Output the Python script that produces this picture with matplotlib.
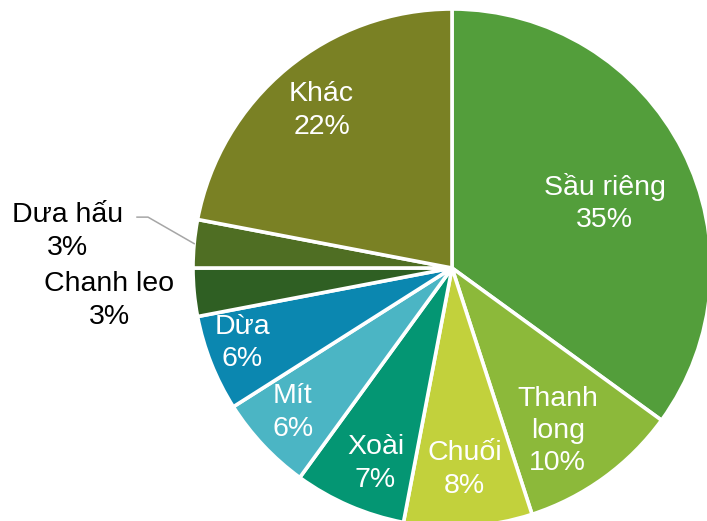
import numpy as np
import matplotlib
matplotlib.use('Agg')
import matplotlib.pyplot as plt

# Dữ liệu
labels = ['Sầu riêng', 'Thanh\nlong', 'Chuối', 'Xoài', 'Mít', 'Dừa', 'Chanh leo', 'Dưa hấu', 'Khác']
shares = [35, 10, 8, 7, 6, 6, 3, 3, 22]
colors = ['#539e3b', '#8cb93a', '#c2d13c', '#049673', '#4bb5c4',
          '#0b87b0', '#2f5f23', '#4f6e23', '#7a8124']

# vị trí nhãn: (tỷ lệ bán kính, lệch góc)
label_pos = [(0.64, -4), (0.75, -3), (0.78, 0), (0.81, 2), (0.83, -1),
             (0.86, -2), (1.33, 0), (1.49, 0), (0.79, 0)]
outside = {6, 7}

plt.rcParams['font.family'] = ['Liberation Sans', 'DejaVu Sans']

fig = plt.figure(figsize=(7.07, 5.21), dpi=100)
ax = fig.add_axes([0, 0, 1, 1])

cx, cy, R = 452, 521 - 268, 259
wedges, _ = ax.pie(shares, colors=colors, startangle=90, counterclock=False,
                   center=(cx, cy), radius=R, frame=True,
                   wedgeprops=dict(edgecolor='white', linewidth=2.6))
ax.set_xlim(0, 707)
ax.set_ylim(0, 521)
ax.axis('off')

for i, w in enumerate(wedges):
    mid = (w.theta1 + w.theta2) / 2
    rf, dth = label_pos[i]
    a = np.deg2rad(mid + dth)
    tx, ty = cx + rf * R * np.cos(a), cy + rf * R * np.sin(a)
    col = 'black' if i in outside else 'white'
    ax.text(tx, ty, f'{labels[i]}\n{shares[i]}%', ha='center', va='center',
            color=col, fontsize=20.5, linespacing=1.32)
    if i == 7:
        a0 = np.deg2rad(mid)
        p0 = (cx + R * np.cos(a0), cy + R * np.sin(a0))
        ae = np.deg2rad(170.5)
        p1 = (cx + 1.19 * R * np.cos(ae), cy + 1.19 * R * np.sin(ae))
        p2 = (p1[0] - 11, p1[1])
        ax.plot([p0[0], p1[0], p2[0]], [p0[1], p1[1], p2[1]],
                color='#a6a6a6', linewidth=1.1)

fig.savefig('out.png', dpi=100)
